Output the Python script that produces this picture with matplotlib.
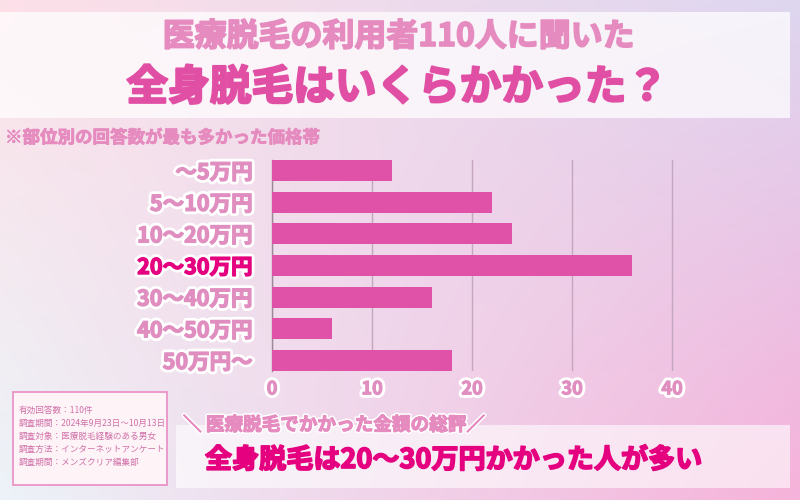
import numpy as np
import matplotlib
matplotlib.use("Agg")
import matplotlib.pyplot as plt
import matplotlib.patheffects as pe
from matplotlib.patches import Rectangle

plt.rcParams['font.family'] = ['Noto Sans CJK JP', 'DejaVu Sans']

# data
categories = ['～5万円', '5～10万円', '10～20万円', '20～30万円', '30～40万円', '40～50万円', '50万円～']
counts = [12, 22, 24, 36, 16, 6, 18]
highlight = '20～30万円'
xticks = [0, 10, 20, 30, 40]

title1 = '医療脱毛の利用者110人に聞いた'
title2 = '全身脱毛はいくらかかった？'
subtitle = '※部位別の回答数が最も多かった価格帯'
notes = ['有効回答数：110件',
         '調査期間：2024年9月23日～10月13日',
         '調査対象：医療脱毛経験のある男女',
         '調査方法：インターネットアンケート',
         '調査期間：メンズクリア編集部']
summary_head = '＼ 医療脱毛でかかった金額の総評／'
summary = '全身脱毛は20～30万円かかった人が多い'

pink_light = '#e68bbf'
pink_mid = '#e04fa3'
magenta = '#e4007f'
bar_color = '#e052a7'


def thick(color, w=1.0, outline=0):
    # fake a heavier weight by stroking the glyphs in their own colour
    fx = []
    if outline:
        fx.append(pe.Stroke(linewidth=outline, foreground='white'))
    fx += [pe.Stroke(linewidth=w, foreground=color), pe.Normal()]
    return fx


fig = plt.figure(figsize=(8, 5), dpi=100)

# gradient background
bg = fig.add_axes([0, 0, 1, 1])
tl = np.array([253, 224, 232]) / 255
tr = np.array([222, 214, 240]) / 255
bl = np.array([236, 243, 248]) / 255
br = np.array([246, 178, 218]) / 255
u = np.linspace(0, 1, 200)[None, :, None]
v = np.linspace(0, 1, 125)[:, None, None]
img = (1 - v) * ((1 - u) * tl + u * tr) + v * ((1 - u) * bl + u * br)
bg.imshow(img, extent=[0, 800, 500, 0], aspect='auto', interpolation='bilinear')
bg.set_xlim(0, 800)
bg.set_ylim(500, 0)
bg.axis('off')

# title banner
bg.add_patch(Rectangle((0, 12), 790, 106, color='white', alpha=0.72, lw=0))
bg.text(399, 37, title1, color=pink_light, fontsize=23, fontweight='bold',
        ha='center', va='center', path_effects=thick(pink_light, 1.2))
bg.text(397, 88, title2, color=pink_mid, fontsize=30, fontweight='bold',
        ha='center', va='center', path_effects=thick(pink_mid, 1.6))
bg.text(5, 138, subtitle, color=pink_light, fontsize=12.6, fontweight='bold',
        ha='left', va='center', path_effects=thick(pink_light, 0.6))

# notes box
bg.add_patch(Rectangle((13, 392), 154, 93, facecolor='#fff5f8', edgecolor='#eb8fc4',
                       lw=1.3, alpha=0.95))
for i, line in enumerate(notes):
    bg.text(19, 410 + i * 13, line, color='#d070a8', fontsize=6.2, ha='left', va='center')

# summary band
bg.add_patch(Rectangle((176, 425), 614, 63, color='white', alpha=0.6, lw=0))
bg.text(183, 425, summary_head, color=pink_light, fontsize=13.4, fontweight='bold',
        ha='left', va='center', path_effects=thick(pink_light, 0.8, outline=3))
bg.text(205, 460, summary, color=magenta, fontsize=19.5, fontweight='bold',
        ha='left', va='center', path_effects=thick(magenta, 1.2))

# bar chart
ax = fig.add_axes([272 / 800, 1 - 371 / 500, 440 / 800, 211 / 500])
ax.patch.set_alpha(0)
pos = np.arange(len(categories))
ax.barh(pos, counts, height=0.67, color=bar_color, zorder=3)
ax.set_xlim(0, 44)
ax.set_ylim(len(categories) - 1 + 0.335, -0.335)
ax.set_xticks(xticks)
ax.set_yticks(pos)
ax.set_yticklabels(categories)
ax.xaxis.grid(True, color='#c4a6bf', lw=1)
ax.set_axisbelow(True)
for s in ['top', 'right', 'bottom']:
    ax.spines[s].set_visible(False)
ax.spines['left'].set_color('#9a8a96')
ax.spines['left'].set_linewidth(1)
ax.tick_params(axis='both', length=0)
ax.tick_params(axis='y', pad=14)
ax.tick_params(axis='x', pad=6)
for lab in ax.get_yticklabels():
    c = magenta if lab.get_text() == highlight else '#e08ec0'
    lab.set_fontsize(15.5)
    lab.set_fontweight('bold')
    lab.set_color(c)
    lab.set_path_effects(thick(c, 1.0, outline=5))
for lab in ax.get_xticklabels():
    lab.set_fontsize(13)
    lab.set_fontweight('bold')
    lab.set_color('#e08ec0')
    lab.set_path_effects(thick('#e08ec0', 0.8, outline=5))

fig.savefig('out.png', dpi=100)
